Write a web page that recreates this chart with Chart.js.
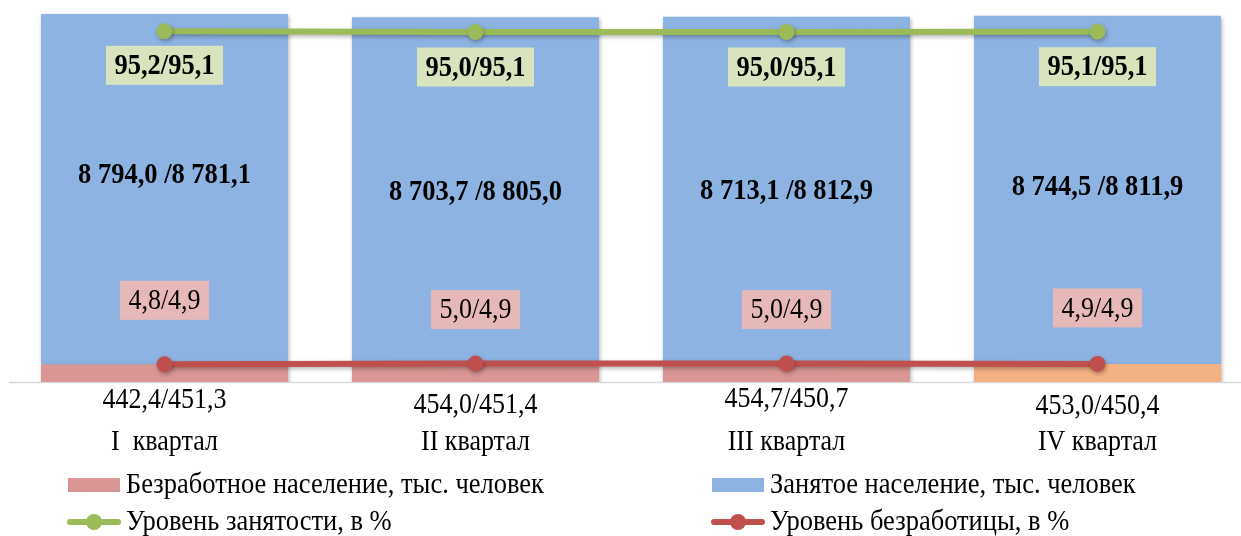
<!DOCTYPE html>
<html>
<head>
<meta charset="utf-8">
<script src="https://cdn.jsdelivr.net/npm/chart.js@4.4.0/dist/chart.umd.min.js"></script>
<style>
  html, body { margin: 0; padding: 0; background: #fff; overflow: hidden; }
  #wrap { position: relative; width: 1254px; height: 536px; }
</style>
</head>
<body>
<div id="wrap"><canvas id="chart" width="1254" height="536" style="width:1254px;height:536px"></canvas></div>
<script>
// данные: текущий год / прошлый год
const quarters = ['I  квартал', 'II квартал', 'III квартал', 'IV квартал'];
const unemployed = [442.4, 454.0, 454.7, 453.0];
const unemployedPrev = [451.3, 451.4, 450.7, 450.4];
const employed = [8794.0, 8703.7, 8713.1, 8744.5];
const employedPrev = [8781.1, 8805.0, 8812.9, 8811.9];
const employmentRate = [95.2, 95.0, 95.0, 95.1];
const employmentRatePrev = [95.1, 95.1, 95.1, 95.1];
const unemploymentRate = [4.8, 5.0, 5.0, 4.9];
const unemploymentRatePrev = [4.9, 4.9, 4.9, 4.9];

const SERIF = '"Liberation Serif", "Times New Roman", serif';
const SY = 1.13; // текст в оригинале немного вытянут по вертикали

// ручные смещения подписей (как в Excel)
const blueLabelOff = [161, 175, 174, 172];   // от верха столбца
const pinkLabelOff = [-64, -54, -54, -56];   // от красной точки
const greenLabelOff = [34, 35, 35, 35];      // от зелёной точки
const valueLabelOff = [18, 23, 17, 24];      // под осью

const fmt = v => {
    const [i, d] = v.toFixed(1).split('.');
    return i.replace(/\B(?=(\d{3})+(?!\d))/g, ' ') + ',' + d;
};

function text(ctx, str, x, y, font, color, align) {
    ctx.save();
    ctx.translate(x, y);
    ctx.scale(1, SY);
    ctx.font = font;
    ctx.fillStyle = color || '#000';
    ctx.textAlign = align || 'center';
    ctx.textBaseline = 'middle';
    ctx.fillText(str, 0, 0);
    ctx.restore();
}

function boxText(ctx, str, x, y, font, bg) {
    ctx.font = font;
    const w = ctx.measureText(str).width + 17;
    ctx.fillStyle = bg;
    ctx.fillRect(x - w / 2, y - 19.5, w, 39);
    text(ctx, str, x, y + 1, font, '#000');
}

const shadows = {
    id: 'shadows',
    beforeDatasetDraw(chart) {
        const ctx = chart.ctx;
        ctx.save();
        ctx.shadowColor = 'rgba(0,0,0,0.3)';
        ctx.shadowBlur = 4;
        ctx.shadowOffsetX = 1;
        ctx.shadowOffsetY = 2;
    },
    afterDatasetDraw(chart) {
        chart.ctx.restore();
    }
};

const decor = {
    id: 'decor',
    beforeDatasetsDraw(chart) {
        const { ctx, chartArea } = chart;
        ctx.save();
        ctx.strokeStyle = '#d9d9d9';
        ctx.lineWidth = 1.5;
        ctx.beginPath();
        ctx.moveTo(chartArea.left, chartArea.bottom + 0.5);
        ctx.lineTo(chartArea.right, chartArea.bottom + 0.5);
        ctx.stroke();
        ctx.restore();
    },
    afterDraw(chart) {
        const { ctx, chartArea } = chart;
        const x = chart.scales.x, y = chart.scales.y, y1 = chart.scales.y1;
        const bold = 'bold 26.5px ' + SERIF;
        const reg = '26px ' + SERIF;
        quarters.forEach((q, i) => {
            const cx = x.getPixelForValue(i);
            const top = y.getPixelForValue(unemployed[i] + employed[i]);
            text(ctx, fmt(employed[i]) + ' /' + fmt(employedPrev[i]), cx, top + blueLabelOff[i], bold);
            const gy = y1.getPixelForValue(employmentRate[i]);
            boxText(ctx, fmt(employmentRate[i]) + '/' + fmt(employmentRatePrev[i]), cx, gy + greenLabelOff[i], bold, '#d7e4bd');
            const ry = y1.getPixelForValue(unemploymentRate[i]);
            boxText(ctx, fmt(unemploymentRate[i]) + '/' + fmt(unemploymentRatePrev[i]), cx, ry + pinkLabelOff[i], reg, '#e6b9b8');
            text(ctx, fmt(unemployed[i]) + '/' + fmt(unemployedPrev[i]), cx, chartArea.bottom + valueLabelOff[i], reg);
            text(ctx, q, cx, chartArea.bottom + 60, reg);
        });

        // легенда
        const ds = chart.data.datasets;
        const items = [
            [ds[2], 68, 485], [ds[3], 712, 485],
            [ds[0], 68, 522], [ds[1], 712, 522]
        ];
        items.forEach(([d, lx, ly]) => {
            ctx.save();
            if (d.type === 'bar') {
                ctx.fillStyle = Array.isArray(d.backgroundColor) ? d.backgroundColor[0] : d.backgroundColor;
                ctx.fillRect(lx, ly - 7, 52, 14);
            } else {
                ctx.strokeStyle = d.borderColor;
                ctx.lineWidth = 6;
                ctx.lineCap = 'round';
                ctx.beginPath();
                ctx.moveTo(lx + 2, ly);
                ctx.lineTo(lx + 50, ly);
                ctx.stroke();
                ctx.fillStyle = d.borderColor;
                ctx.beginPath();
                ctx.arc(lx + 26, ly, 8, 0, Math.PI * 2);
                ctx.fill();
            }
            ctx.restore();
            text(ctx, d.label, lx + 58, ly, '26.5px ' + SERIF, '#000', 'left');
        });
    }
};

new Chart(document.getElementById('chart'), {
    data: {
        labels: quarters,
        datasets: [
            {
                type: 'line', label: 'Уровень занятости, в %', data: employmentRate,
                yAxisID: 'y1', borderColor: '#9bbb59', backgroundColor: '#9bbb59',
                borderWidth: 6, pointRadius: 8, pointHoverRadius: 8, pointBorderWidth: 0,
                tension: 0, order: 0
            },
            {
                type: 'line', label: 'Уровень безработицы, в %', data: unemploymentRate,
                yAxisID: 'y1', borderColor: '#c0504d', backgroundColor: '#c0504d',
                borderWidth: 6, pointRadius: 8, pointHoverRadius: 8, pointBorderWidth: 0,
                tension: 0, order: 1
            },
            {
                type: 'bar', label: 'Безработное население, тыс. человек', data: unemployed,
                backgroundColor: ['#d99694', '#d99694', '#d99694', '#f4b183'],
                barPercentage: 0.794, categoryPercentage: 1, order: 2
            },
            {
                type: 'bar', label: 'Занятое население, тыс. человек', data: employed,
                backgroundColor: '#8db3e2',
                barPercentage: 0.794, categoryPercentage: 1, order: 3
            }
        ]
    },
    options: {
        responsive: false,
        animation: false,
        layout: { autoPadding: false, padding: { left: 9, right: 1, top: 0, bottom: 154 } },
        plugins: { legend: { display: false }, tooltip: { enabled: false } },
        scales: {
            x: { display: false, stacked: true },
            y: { display: false, stacked: true, min: 0, max: 9590 },
            y1: { display: false, stacked: false, min: 0, max: 103.7 }
        }
    },
    plugins: [shadows, decor]
});
</script>
</body>
</html>
